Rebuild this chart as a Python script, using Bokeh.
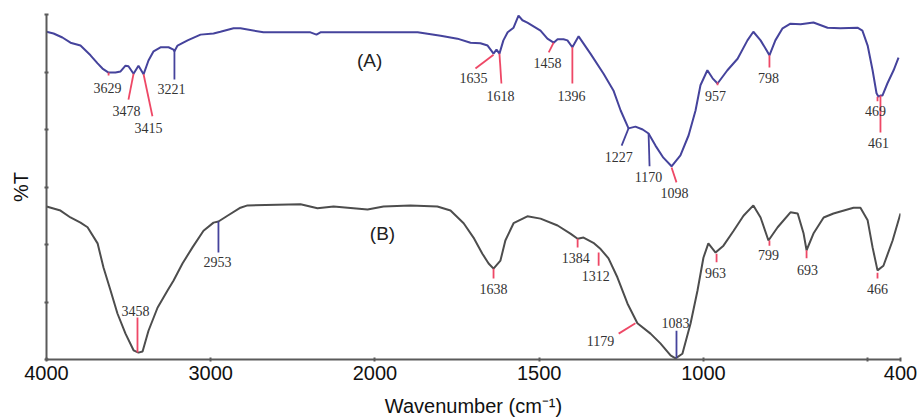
import numpy as np
from bokeh.plotting import figure
from bokeh.models import Range1d, FixedTicker, ColumnDataSource
from bokeh.core.properties import value
from bokeh.embed import file_html
from bokeh.resources import INLINE

# ---------------- data (wavenumber cm-1, %T arbitrary units) ----------------
a_wn = [4000, 3957, 3903, 3854, 3793, 3732, 3689, 3659, 3622, 3580, 3549, 3519, 3501, 3470,
        3440, 3409, 3379, 3348, 3306, 3257, 3227, 3221, 3202, 3141, 3062, 2983, 2941, 2861,
        2819, 2679, 2453, 2393, 2356, 2332, 2088, 1992, 1870, 1800, 1749, 1709, 1679, 1657,
        1639, 1630, 1621, 1609, 1596, 1578, 1563, 1551, 1536, 1496, 1475, 1456, 1444, 1426,
        1414, 1399, 1380, 1344, 1304, 1274, 1252, 1228, 1207, 1185, 1167, 1146, 1122, 1097,
        1070, 1045, 1024, 1009, 988, 972, 957, 927, 896, 866, 848, 826, 811, 799, 781, 759,
        735, 704, 665, 622, 583, 531, 516, 500, 485, 473, 467, 461, 455, 440, 421, 406]
a_t = [57.0, 56.7, 56.0, 55.1, 54.6, 52.9, 51.5, 50.6, 49.9, 49.9, 50.1, 51.1, 51.0, 49.7,
       51.1, 49.6, 52.0, 53.6, 54.3, 54.3, 53.9, 53.6, 54.6, 55.5, 56.5, 56.7, 57.0, 57.6,
       57.6, 56.9, 56.9, 56.9, 56.5, 56.9, 56.9, 56.9, 56.9, 56.3, 55.8, 55.1, 55.0, 54.6,
       53.2, 53.9, 53.2, 55.5, 56.9, 57.7, 59.8, 59.0, 58.6, 57.2, 55.8, 55.1, 55.7, 55.7,
       55.5, 54.3, 56.2, 53.2, 49.7, 46.8, 43.3, 40.2, 40.5, 40.0, 39.3, 37.2, 35.1, 33.6,
       35.5, 39.0, 43.3, 47.7, 50.3, 48.9, 48.0, 50.3, 52.3, 55.5, 57.0, 55.5, 54.1, 52.9,
       55.5, 57.6, 58.4, 58.3, 58.6, 57.7, 57.6, 57.7, 57.2, 54.6, 50.3, 46.3, 45.7, 45.9,
       45.9, 48.0, 50.3, 52.5]

b_wn = [4000, 3915, 3854, 3793, 3750, 3689, 3653, 3610, 3568, 3519, 3470, 3440, 3415, 3379,
        3324, 3263, 3227, 3172, 3111, 3044, 2983, 2953, 2898, 2819, 2776, 2453, 2350, 2252,
        2045, 1974, 1892, 1810, 1770, 1730, 1700, 1673, 1654, 1639, 1618, 1603, 1578, 1536,
        1496, 1444, 1405, 1383, 1365, 1335, 1313, 1289, 1262, 1231, 1201, 1161, 1131, 1100,
        1085, 1064, 1039, 1018, 1000, 985, 963, 939, 908, 878, 848, 826, 802, 774, 735, 713,
        695, 686, 665, 634, 604, 543, 522, 500, 485, 470, 452, 424, 400]
b_t = [26.6, 25.9, 24.7, 23.8, 23.0, 20.2, 16.0, 12.0, 8.0, 4.5, 1.6, 1.2, 1.4, 5.0,
       9.0, 12.0, 13.7, 16.7, 19.5, 22.4, 23.8, 24.0, 25.0, 26.4, 26.8, 27.0, 26.3, 26.6,
       26.1, 26.6, 26.8, 26.6, 25.9, 23.7, 21.2, 18.4, 16.7, 15.8, 17.2, 20.7, 23.7, 24.9,
       24.5, 23.3, 21.9, 21.0, 21.2, 20.3, 19.2, 17.6, 14.3, 9.7, 6.3, 4.5, 2.8, 0.7,
       0.2, 1.0, 6.3, 12.0, 17.7, 20.2, 18.6, 19.8, 22.4, 25.0, 26.8, 24.7, 20.7, 23.0, 25.6, 25.4,
       21.9, 19.0, 21.9, 24.7, 25.4, 26.4, 26.4, 24.2, 19.5, 15.5, 16.3, 20.7, 25.4]

# peak annotations: label, line from (wn, t) to (wn, t), label anchor (wn, t), colour key
pk_label = ["3629", "3478", "3415", "3221", "1635", "1618", "1458", "1396", "1227", "1170",
            "1098", "957", "798", "469", "461",
            "3458", "2953", "1638", "1384", "1312", "1179", "1083", "963", "799", "693", "466"]
pk_wn0 = [3622, 3470, 3409, 3221, 1639, 1621, 1456, 1399, 1228, 1167, 1097, 957, 799, 470, 461,
          3446, 2953, 1639, 1383, 1319, 1258, 1082, 960, 799, 686, 470]
pk_t0 = [49.9, 49.7, 49.6, 53.9, 53.0, 53.2, 55.1, 54.3, 40.2, 39.3, 33.4, 48.2, 52.9, 45.7, 45.9,
         7.3, 24.0, 15.8, 21.0, 18.6, 4.5, 5.0, 18.4, 20.7, 19.0, 15.1]
pk_wn1 = [3622, 3501, 3355, 3221, 1694, 1615, 1471, 1399, 1249, 1164, 1082, 957, 799, 470, 461,
          3446, 2953, 1639, 1383, 1319, 1207, 1082, 960, 799, 686, 470]
pk_t1 = [49.4, 45.2, 42.3, 48.7, 50.6, 48.0, 53.4, 48.0, 37.2, 33.6, 30.8, 47.7, 50.8, 44.9, 39.5,
         1.2, 18.6, 14.1, 19.5, 16.3, 6.3, 0.2, 16.9, 19.8, 17.6, 14.1]
pk_lwn = [3628, 3513, 3379, 3239, 1700, 1618, 1475, 1402, 1258, 1167, 1088, 963, 802, 476, 467,
          3458, 2959, 1639, 1389, 1328, 1313, 1085, 963, 802, 683, 470]
pk_lt = [47.3, 43.3, 40.3, 47.0, 48.9, 45.9, 51.5, 45.9, 35.3, 31.7, 29.0, 45.9, 48.9, 43.3, 37.6,
         8.5, 16.9, 12.3, 17.7, 14.6, 3.3, 6.3, 15.1, 18.1, 15.5, 12.3]
pk_kind = ["r", "r", "r", "b", "r", "r", "r", "r", "b", "b", "r", "r", "r", "r", "r",
           "r", "b", "r", "r", "r", "r", "b", "r", "r", "r", "r"]

series_names = ["(A)", "(B)"]
series_label_wn = [2033, 1977]
series_label_t = [52.0, 21.9]

x_ticks_wn = [4000, 3000, 2000, 1500, 1000, 500, 400]
x_tick_labels = ["4000", "3000", "2000", "1500", "1000", "", "400"]
y_ticks = [0, 10, 20, 30, 40, 50, 60]


# FTIR-style axis: 2x expansion below 2000 cm-1
def pos(w):
    w = np.asarray(w, dtype=float)
    return np.where(w >= 2000, 4000 - w, 2000 + 2 * (2000 - w))


BLUE = "#45439c"
GREY = "#4d4d4d"
RED = "#ee4866"
AXIS = "#5a5a5a"

p = figure(width=921, height=419, output_backend="svg", toolbar_location=None,
           x_range=Range1d(0, 5200), y_range=Range1d(0, 60),
           min_border_left=46, min_border_right=21, min_border_top=14, min_border_bottom=60)
p.outline_line_color = None
p.grid.visible = False
p.background_fill_color = "white"
p.border_fill_color = "white"

p.line(pos(a_wn), a_t, line_color=BLUE, line_width=2)
p.line(pos(b_wn), b_t, line_color=GREY, line_width=2)

colors = [RED if k == "r" else BLUE for k in pk_kind]
seg = ColumnDataSource(dict(x0=pos(pk_wn0), y0=pk_t0, x1=pos(pk_wn1), y1=pk_t1, c=colors))
p.segment("x0", "y0", "x1", "y1", source=seg, line_color="c", line_width=1.8)

lab = ColumnDataSource(dict(x=pos(pk_lwn), y=pk_lt, t=pk_label))
p.text("x", "y", text="t", source=lab, text_font=value("Liberation Serif"),
       text_font_size="14px", text_color="#333333", text_align="center",
       text_baseline="middle")

p.text(pos(series_label_wn), series_label_t, text=series_names,
       text_font=value("Liberation Sans"), text_font_size="19px", text_color="#222222",
       text_align="center", text_baseline="middle")

xa = p.xaxis[0]
xa.ticker = FixedTicker(ticks=list(pos(x_ticks_wn)))
xa.major_label_overrides = {float(pos(w)): l for w, l in zip(x_ticks_wn, x_tick_labels)}
xa.axis_label = "Wavenumber (cm\u207b\u00b9)"
xa.axis_label_text_font = "Liberation Sans"
xa.axis_label_text_font_style = "normal"
xa.axis_label_text_font_size = "20px"
xa.axis_label_standoff = 12
xa.major_label_text_font = "Liberation Sans"
xa.major_label_text_font_size = "20px"
xa.major_label_standoff = 4

ya = p.yaxis[0]
ya.ticker = FixedTicker(ticks=y_ticks)
ya.major_label_overrides = {t: "" for t in y_ticks}
ya.major_label_standoff = 0
ya.axis_label = "%T"
ya.axis_label_text_font = "Liberation Sans"
ya.axis_label_text_font_style = "normal"
ya.axis_label_text_font_size = "20px"
ya.axis_label_standoff = 13

for ax in (xa, ya):
    ax.axis_line_color = AXIS
    ax.axis_line_width = 2
    ax.major_tick_line_color = AXIS
    ax.major_tick_line_width = 2
    ax.major_tick_in = 2
    ax.major_tick_out = 2
    ax.minor_tick_line_color = None
    ax.major_label_text_color = "#111111"
    ax.axis_label_text_color = "#111111"

open("out.html", "w").write(file_html(p, INLINE))
